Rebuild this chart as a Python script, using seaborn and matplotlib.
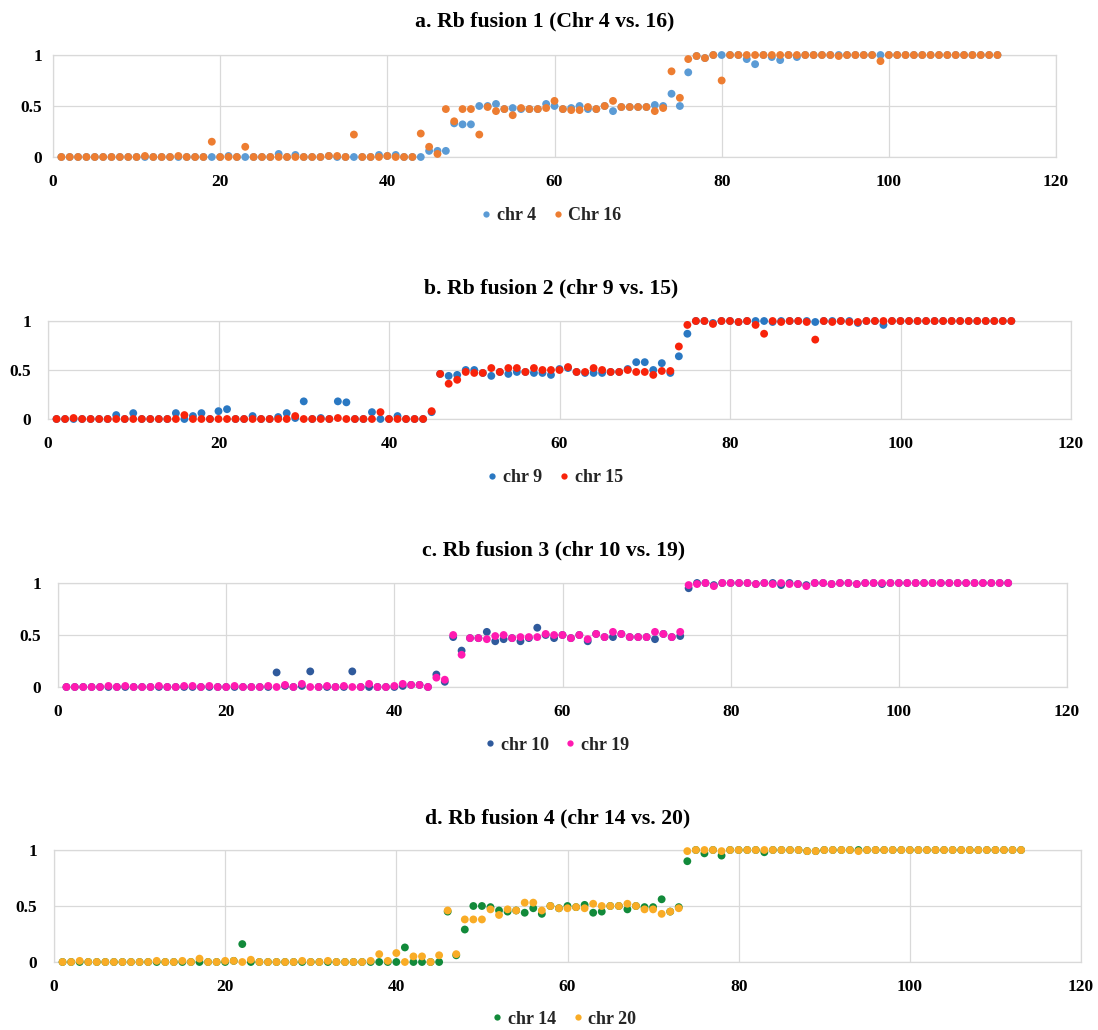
import matplotlib
matplotlib.use("Agg")
import matplotlib.pyplot as plt
import pandas as pd
import seaborn as sns

# ---------------- data ----------------
window = list(range(1, 114))

chr4 = [0, 0, 0, 0, 0, 0, 0, 0, 0, 0,
        0, 0, 0, 0, 0, 0, 0, 0, 0, 0,
        0.01, 0, 0, 0, 0, 0, 0.03, 0, 0.02, 0,
        0, 0, 0.01, 0, 0, 0, 0, 0, 0.02, 0.01,
        0.02, 0, 0, 0, 0.06, 0.06, 0.06, 0.33, 0.32, 0.32,
        0.50, 0.50, 0.52, 0.47, 0.48, 0.47, 0.47, 0.47, 0.52, 0.50,
        0.47, 0.48, 0.50, 0.47, 0.47, 0.50, 0.45, 0.49, 0.49, 0.49,
        0.49, 0.51, 0.50, 0.62, 0.50, 0.83, 0.99, 0.97, 1, 1,
        1, 1, 0.96, 0.91, 1, 0.98, 0.95, 1, 0.98, 1,
        1, 1, 1, 1, 1, 1, 1, 1, 1, 1,
        1, 1, 1, 1, 1, 1, 1, 1, 1, 1,
        1, 1, 1]
chr16 = [0, 0, 0, 0, 0, 0, 0, 0, 0, 0,
         0.01, 0, 0, 0, 0.01, 0, 0, 0, 0.15, 0,
         0, 0, 0.10, 0, 0, 0, 0, 0, 0, 0,
         0, 0, 0.01, 0.01, 0, 0.22, 0, 0, 0, 0.01,
         0, 0, 0, 0.23, 0.10, 0.03, 0.47, 0.35, 0.47, 0.47,
         0.22, 0.49, 0.45, 0.47, 0.41, 0.48, 0.47, 0.47, 0.48, 0.55,
         0.47, 0.46, 0.46, 0.49, 0.47, 0.50, 0.55, 0.49, 0.49, 0.49,
         0.49, 0.45, 0.48, 0.84, 0.58, 0.96, 0.99, 0.97, 1, 0.75,
         1, 1, 1, 1, 1, 1, 1, 1, 1, 1,
         1, 1, 1, 0.99, 1, 1, 1, 1, 0.94, 1,
         1, 1, 1, 1, 1, 1, 1, 1, 1, 1,
         1, 1, 1]

chr9 = [0, 0, 0, 0, 0, 0, 0, 0.04, 0, 0.06,
        0, 0, 0, 0, 0.06, 0, 0.03, 0.06, 0, 0.08,
        0.10, 0, 0, 0.03, 0, 0, 0.02, 0.06, 0.01, 0.18,
        0, 0.01, 0, 0.18, 0.17, 0, 0, 0.07, 0, 0,
        0.03, 0, 0, 0, 0.07, 0.46, 0.44, 0.45, 0.50, 0.50,
        0.47, 0.44, 0.48, 0.46, 0.48, 0.48, 0.47, 0.47, 0.45, 0.51,
        0.52, 0.48, 0.47, 0.47, 0.47, 0.48, 0.48, 0.51, 0.58, 0.58,
        0.50, 0.57, 0.47, 0.64, 0.87, 1, 1, 0.98, 1, 1,
        0.99, 1, 1, 1, 0.99, 1, 1, 1, 1, 0.99,
        1, 1, 1, 1, 0.98, 1, 1, 0.96, 1, 1,
        1, 1, 1, 1, 1, 1, 1, 1, 1, 1,
        1, 1, 1]
chr15 = [0, 0, 0.01, 0, 0, 0, 0, 0, 0, 0,
         0, 0, 0, 0, 0, 0.04, 0, 0, 0, 0,
         0, 0, 0, 0, 0, 0, 0, 0, 0.03, 0,
         0, 0, 0, 0.01, 0, 0, 0, 0, 0.07, 0,
         0, 0, 0, 0, 0.08, 0.46, 0.36, 0.40, 0.48, 0.47,
         0.47, 0.52, 0.48, 0.52, 0.52, 0.48, 0.52, 0.50, 0.50, 0.50,
         0.53, 0.48, 0.48, 0.52, 0.50, 0.48, 0.48, 0.50, 0.48, 0.48,
         0.45, 0.49, 0.49, 0.74, 0.96, 1, 1, 0.97, 1, 1,
         0.99, 1, 0.96, 0.87, 1, 0.99, 1, 1, 0.99, 0.81,
         1, 0.99, 1, 0.99, 0.99, 1, 1, 1, 1, 1,
         1, 1, 1, 1, 1, 1, 1, 1, 1, 1,
         1, 1, 1]

chr10 = [0, 0, 0, 0, 0, 0, 0, 0, 0, 0,
         0, 0, 0, 0, 0, 0, 0, 0, 0, 0,
         0, 0, 0, 0, 0, 0.14, 0.01, 0, 0.01, 0.15,
         0, 0, 0, 0, 0.15, 0, 0, 0, 0, 0,
         0.01, 0.02, 0.02, 0, 0.12, 0.05, 0.48, 0.35, 0.47, 0.47,
         0.53, 0.44, 0.46, 0.47, 0.44, 0.47, 0.57, 0.50, 0.47, 0.50,
         0.47, 0.50, 0.44, 0.51, 0.48, 0.48, 0.51, 0.48, 0.48, 0.48,
         0.46, 0.51, 0.48, 0.49, 0.95, 1, 1, 0.98, 1, 1,
         1, 1, 0.99, 1, 1, 0.98, 1, 0.99, 0.98, 1,
         1, 0.99, 1, 1, 0.99, 1, 1, 0.99, 1, 1,
         1, 1, 1, 1, 1, 1, 1, 1, 1, 1,
         1, 1, 1]
chr19 = [0, 0, 0, 0, 0, 0.01, 0, 0.01, 0, 0,
         0, 0.01, 0, 0, 0.01, 0.01, 0, 0.01, 0, 0,
         0.01, 0, 0, 0, 0.01, 0, 0.02, 0, 0.03, 0,
         0, 0.01, 0, 0.01, 0, 0, 0.03, 0, 0, 0.01,
         0.03, 0.02, 0.02, 0, 0.09, 0.07, 0.50, 0.31, 0.47, 0.47,
         0.46, 0.49, 0.50, 0.47, 0.48, 0.48, 0.48, 0.51, 0.50, 0.50,
         0.47, 0.50, 0.46, 0.51, 0.48, 0.53, 0.51, 0.48, 0.48, 0.48,
         0.53, 0.51, 0.48, 0.53, 0.98, 0.99, 1, 0.97, 1, 1,
         1, 1, 0.99, 1, 0.99, 1, 0.99, 0.99, 0.97, 1,
         1, 0.99, 1, 1, 0.99, 1, 1, 1, 1, 1,
         1, 1, 1, 1, 1, 1, 1, 1, 1, 1,
         1, 1, 1]

chr14 = [0, 0, 0, 0, 0, 0, 0, 0, 0, 0,
         0, 0, 0, 0, 0, 0, 0, 0, 0, 0,
         0.01, 0.16, 0, 0, 0, 0, 0, 0, 0, 0,
         0, 0, 0, 0, 0, 0, 0, 0, 0, 0,
         0.13, 0, 0, 0, 0, 0.45, 0.06, 0.29, 0.50, 0.50,
         0.49, 0.46, 0.45, 0.46, 0.44, 0.48, 0.43, 0.50, 0.48, 0.50,
         0.49, 0.51, 0.44, 0.45, 0.50, 0.50, 0.47, 0.50, 0.49, 0.49,
         0.56, 0.45, 0.49, 0.90, 1, 0.97, 1, 0.95, 1, 1,
         1, 1, 0.98, 1, 1, 1, 1, 0.99, 0.99, 1,
         1, 1, 1, 1, 1, 1, 1, 1, 1, 1,
         1, 1, 1, 1, 1, 1, 1, 1, 1, 1,
         1, 1, 1]
chr20 = [0, 0, 0.01, 0, 0, 0, 0, 0, 0, 0,
         0, 0.01, 0, 0, 0.01, 0, 0.03, 0, 0, 0.01,
         0.01, 0, 0.02, 0, 0, 0, 0, 0, 0.01, 0,
         0, 0.01, 0, 0, 0, 0, 0.01, 0.07, 0.01, 0.08,
         0, 0.05, 0.05, 0, 0.06, 0.46, 0.07, 0.38, 0.38, 0.38,
         0.47, 0.42, 0.47, 0.46, 0.53, 0.53, 0.46, 0.50, 0.48, 0.48,
         0.49, 0.48, 0.52, 0.50, 0.50, 0.50, 0.52, 0.50, 0.47, 0.47,
         0.43, 0.45, 0.48, 0.99, 1, 1, 1, 0.99, 1, 1,
         1, 1, 1, 1, 1, 1, 1, 0.99, 0.99, 1,
         1, 1, 1, 0.99, 1, 1, 1, 1, 1, 1,
         1, 1, 1, 1, 1, 1, 1, 1, 1, 1,
         1, 1, 1]

titles = ["a. Rb fusion 1 (Chr 4 vs. 16)",
          "b. Rb fusion 2 (chr 9 vs. 15)",
          "c. Rb fusion 3 (chr 10 vs. 19)",
          "d. Rb fusion 4 (chr 14 vs. 20)"]
series_names = [("chr 4", "Chr 16"), ("chr 9", "chr 15"),
                ("chr 10", "chr 19"), ("chr 14", "chr 20")]
series_values = [(chr4, chr16), (chr9, chr15), (chr10, chr19), (chr14, chr20)]
x_ticks = [0, 20, 40, 60, 80, 100, 120]
y_ticks = [0, 0.5, 1]
y_tick_labels = ["0", "0.5", "1"]

# ---------------- style / layout ----------------
colors = [("#5B9BD5", "#ED7D31"), ("#2A78C2", "#F8230A"),
          ("#2F5A9C", "#FF1AB0"), ("#128A3A", "#F9AC26")]

W, H = 1098, 1030
# axes pixel boxes: left, right, top, bottom
boxes = [(53, 1056, 55, 157), (48, 1071, 321, 419),
         (58, 1067, 583, 687), (54, 1081, 850, 962)]
ylabel_pad = [8, 12, 12, 12]
title_pos = [(545, 21), (551, 288), (554, 550), (558, 818)]
legend_pos = [(551, 216), (555, 478), (557, 745), (564, 1019)]

sns.set_theme(style="white")
plt.rcParams["font.family"] = ["Liberation Serif", "DejaVu Serif"]
plt.rcParams["font.weight"] = "bold"

fig = plt.figure(figsize=(W / 100, H / 100), dpi=100)
fig.patch.set_facecolor("white")
grid_c = "#D9D9D9"

for i in range(4):
    l, r, t, b = boxes[i]
    ax = fig.add_axes([l / W, 1 - b / H, (r - l) / W, (b - t) / H])
    n1, n2 = series_names[i]
    v1, v2 = series_values[i]
    df = pd.DataFrame({
        "window": window + window,
        "ratio": list(v1) + list(v2),
        "series": [n1] * len(v1) + [n2] * len(v2),
    })
    sns.scatterplot(data=df, x="window", y="ratio", hue="series",
                    hue_order=[n1, n2], palette=[colors[i][0], colors[i][1]],
                    s=32, linewidth=0, alpha=1, ax=ax, clip_on=False, zorder=3)
    ax.set_xlim(0, 120)
    ax.set_ylim(0, 1)
    ax.set_xticks(x_ticks)
    ax.set_xticklabels([str(v) for v in x_ticks])
    ax.set_yticks(y_ticks)
    ax.set_yticklabels(y_tick_labels)
    ax.set_xlabel("")
    ax.set_ylabel("")
    ax.grid(True, color=grid_c, linewidth=0.9)
    ax.set_axisbelow(True)
    for sp in ax.spines.values():
        sp.set_color(grid_c)
        sp.set_linewidth(0.9)
    ax.tick_params(axis="both", length=0, labelsize=12.5, colors="black")
    ax.tick_params(axis="x", pad=12)
    ax.tick_params(axis="y", pad=ylabel_pad[i])
    for lab in ax.get_xticklabels() + ax.get_yticklabels():
        lab.set_fontweight("bold")

    tx, ty = title_pos[i]
    fig.text(tx / W, 1 - ty / H, titles[i], ha="center", va="center",
             fontsize=15.7, fontweight="bold", color="black")

    lx, ly = legend_pos[i]
    sns.move_legend(ax, "center", bbox_to_anchor=(lx / W, 1 - ly / H),
                    bbox_transform=fig.transFigure, ncol=2, frameon=False,
                    title=None, handlelength=0.6, handletextpad=0.3,
                    columnspacing=0.9, markerscale=0.8,
                    prop={"size": 13, "weight": "bold"})

fig.savefig("out.png", dpi=100, facecolor="white")
